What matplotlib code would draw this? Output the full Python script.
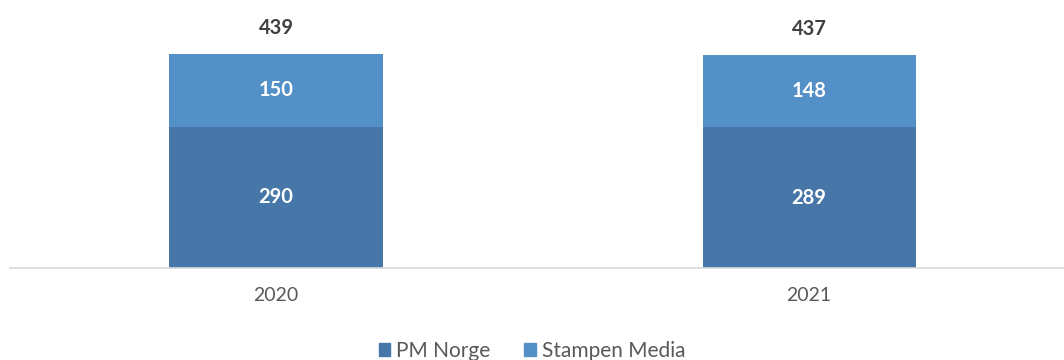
import matplotlib.pyplot as plt
from matplotlib.patches import Patch

years = ["2020", "2021"]
pm_norge = [290, 289]
stampen_media = [150, 148]
totals = [439, 437]

dark_blue = "#4677a8"
light_blue = "#5490c8"

plt.rcParams["font.family"] = ["Lato", "DejaVu Sans"]

fig = plt.figure(figsize=(10.64, 3.6), dpi=100)
ax = fig.add_axes([9.5 / 1064, 92 / 360, 1 - 9.5 / 1064, 268 / 360])

x = range(len(years))
bottom_bars = ax.bar(x, pm_norge, width=0.4, color=dark_blue)
top_bars = ax.bar(x, stampen_media, width=0.4, bottom=pm_norge, color=light_blue)

# value labels inside each segment, totals above
for i in x:
    ax.text(i, pm_norge[i] / 2, str(pm_norge[i]), ha="center", va="center",
            color="white", fontsize=14.5, fontweight="bold")
    ax.text(i, pm_norge[i] + stampen_media[i] / 2, str(stampen_media[i]),
            ha="center", va="center", color="white", fontsize=14.5, fontweight="bold")
    ax.text(i, pm_norge[i] + stampen_media[i] + 54, str(totals[i]), ha="center",
            va="center", color="#404040", fontsize=14.5, fontweight="bold")

ax.set_xlim(-0.5, 1.478)
ax.set_ylim(0, 551)
ax.set_xticks(list(x))
ax.set_xticklabels(years, fontsize=14, color="#595959")
ax.tick_params(axis="x", length=0, pad=14)
ax.set_yticks([])
for side in ["top", "right", "left"]:
    ax.spines[side].set_visible(False)
ax.spines["bottom"].set_color("#d9d9d9")
ax.spines["bottom"].set_linewidth(1.2)

handles = [Patch(color=dark_blue, label="PM Norge"),
           Patch(color=light_blue, label="Stampen Media")]
fig.legend(handles=handles, loc="center", bbox_to_anchor=(0.5, 9 / 360), ncol=2,
           frameon=False, fontsize=15, handlelength=0.55, handleheight=0.55,
           handletextpad=0.3, columnspacing=1.6, labelcolor="#595959")

fig.savefig("out.png", dpi=100)
